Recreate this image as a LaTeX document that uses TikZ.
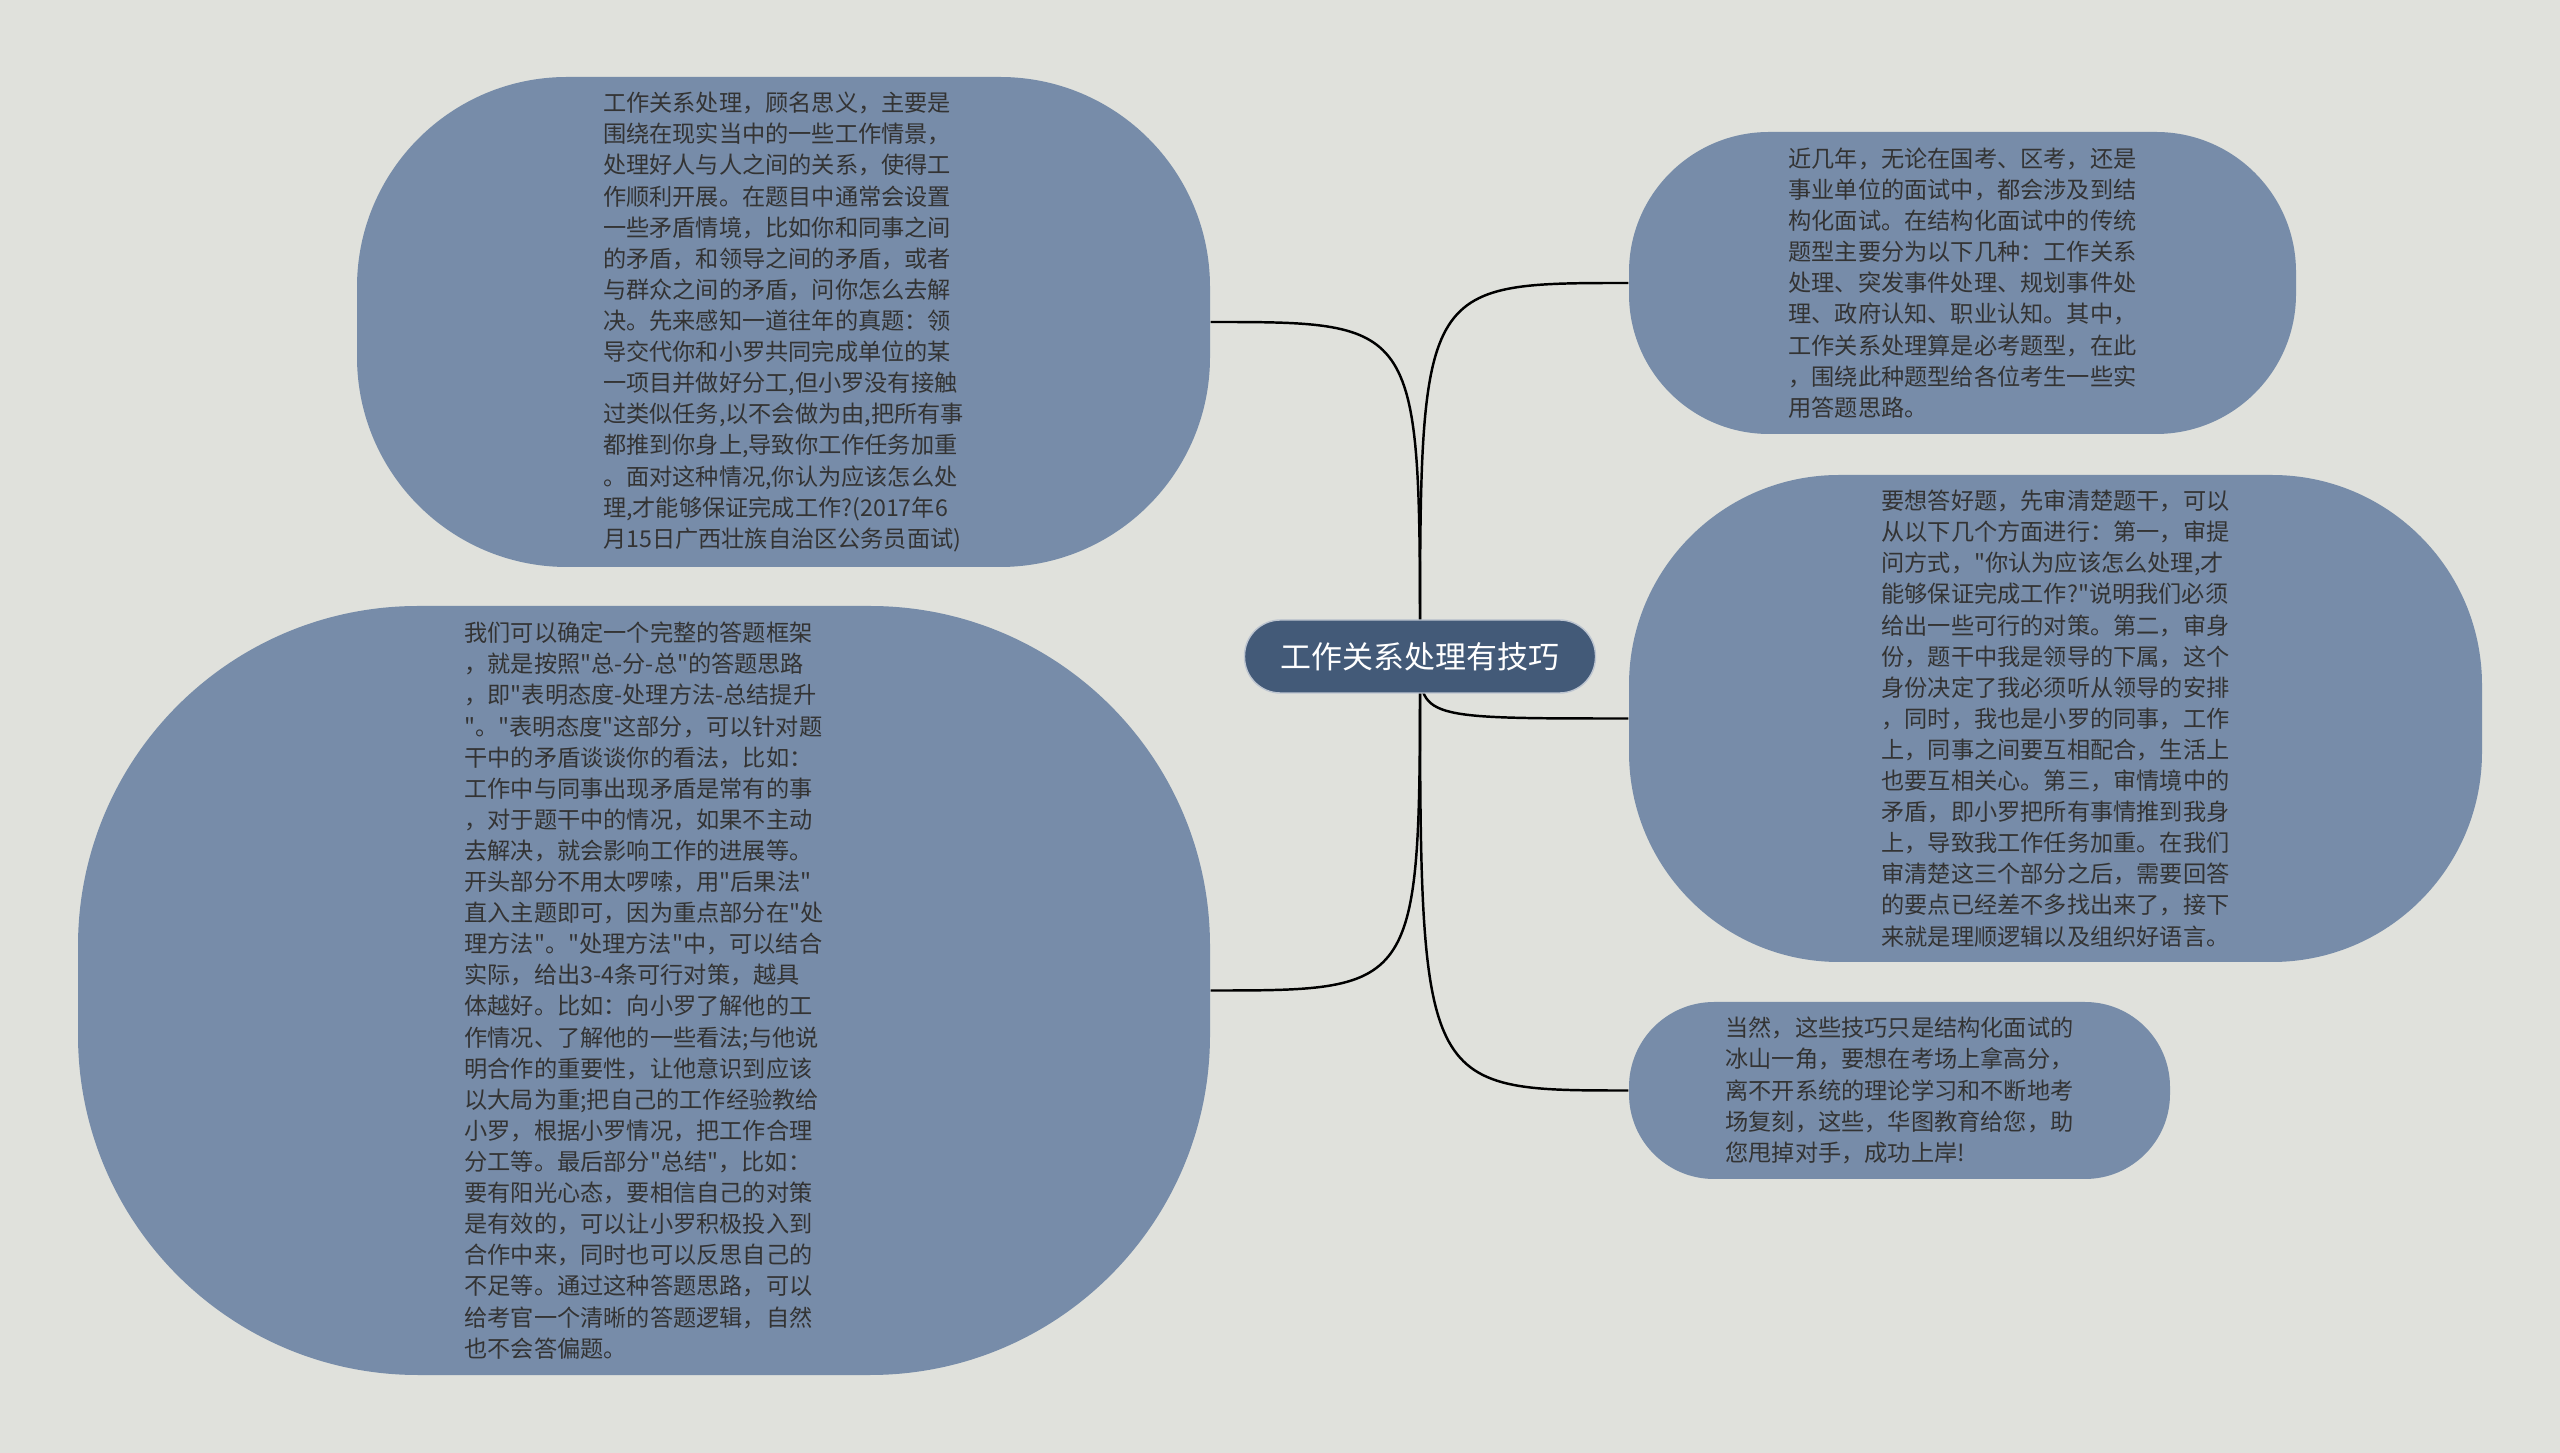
\documentclass[tikz,border=0pt]{standalone}
\usepackage{fontspec}
\newfontfamily\cjk[Ligatures=TeXOff]{Noto Sans CJK SC}
\usepackage{tikz}
\usetikzlibrary{backgrounds}
\definecolor{bg}{HTML}{E0E1DC}
\definecolor{bubblefill}{HTML}{778CA9}
\definecolor{rootfill}{HTML}{435A78}
\definecolor{txt}{HTML}{333333}

\begin{document}
\begin{tikzpicture}[
  bubble/.style={fill=bubblefill, inner sep=0pt, align=left, text=txt,
    font=\cjk\fontsize{6.6pt}{8.85pt}\selectfont},
  link/.style={draw=black, line width=0.7pt}]
  \useasboundingbox (0,0) rectangle (25.6,-14.53);
  \node[fill=rootfill, draw=white!65!rootfill, line width=0.4pt, text=white, rounded corners=0.36cm,
    minimum width=3.51cm, minimum height=0.73cm, font=\cjk\fontsize{8.8pt}{10pt}\selectfont] (root) at (14.2,-6.565) {工作关系处理有技巧};
  \node[bubble, minimum width=8.53cm, minimum height=4.9cm, rounded corners=2.1cm] (tl) at (7.835,-3.22) {工作关系处理，顾名思义，主要是\\
围绕在现实当中的一些工作情景，\\
处理好人与人之间的关系，使得工\\
作顺利开展。在题目中通常会设置\\
一些矛盾情境，比如你和同事之间\\
的矛盾，和领导之间的矛盾，或者\\
与群众之间的矛盾，问你怎么去解\\
决。先来感知一道往年的真题：领\\
导交代你和小罗共同完成单位的某\\
一项目并做好分工,但小罗没有接触\\
过类似任务,以不会做为由,把所有事\\
都推到你身上,导致你工作任务加重\\
。面对这种情况,你认为应该怎么处\\
理,才能够保证完成工作?(2017年6\\
月15日广西壮族自治区公务员面试)};
  \node[bubble, minimum width=11.32cm, minimum height=7.69cm, rounded corners=3.4cm] (bl) at (6.44,-9.905) {我们可以确定一个完整的答题框架\\
，就是按照"总-分-总"的答题思路\\
，即"表明态度-处理方法-总结提升\\
"。"表明态度"这部分，可以针对题\\
干中的矛盾谈谈你的看法，比如：\\
工作中与同事出现矛盾是常有的事\\
，对于题干中的情况，如果不主动\\
去解决，就会影响工作的进展等。\\
开头部分不用太啰嗦，用"后果法"\\
直入主题即可，因为重点部分在"处\\
理方法"。"处理方法"中，可以结合\\
实际，给出3-4条可行对策，越具\\
体越好。比如：向小罗了解他的工\\
作情况、了解他的一些看法;与他说\\
明合作的重要性，让他意识到应该\\
以大局为重;把自己的工作经验教给\\
小罗，根据小罗情况，把工作合理\\
分工等。最后部分"总结"，比如：\\
要有阳光心态，要相信自己的对策\\
是有效的，可以让小罗积极投入到\\
合作中来，同时也可以反思自己的\\
不足等。通过这种答题思路，可以\\
给考官一个清晰的答题逻辑，自然\\
也不会答偏题。};
  \node[bubble, minimum width=6.67cm, minimum height=3.02cm, rounded corners=1.4cm] (tr) at (19.625,-2.83) {近几年，无论在国考、区考，还是\\
事业单位的面试中，都会涉及到结\\
构化面试。在结构化面试中的传统\\
题型主要分为以下几种：工作关系\\
处理、突发事件处理、规划事件处\\
理、政府认知、职业认知。其中，\\
工作关系处理算是必考题型，在此\\
，围绕此种题型给各位考生一些实\\
用答题思路。};
  \node[bubble, minimum width=8.53cm, minimum height=4.87cm, rounded corners=2.1cm] (mr) at (20.555,-7.185) {要想答好题，先审清楚题干，可以\\
从以下几个方面进行：第一，审提\\
问方式，"你认为应该怎么处理,才\\
能够保证完成工作?"说明我们必须\\
给出一些可行的对策。第二，审身\\
份，题干中我是领导的下属，这个\\
身份决定了我必须听从领导的安排\\
，同时，我也是小罗的同事，工作\\
上，同事之间要互相配合，生活上\\
也要互相关心。第三，审情境中的\\
矛盾，即小罗把所有事情推到我身\\
上，导致我工作任务加重。在我们\\
审清楚这三个部分之后，需要回答\\
的要点已经差不多找出来了，接下\\
来就是理顺逻辑以及组织好语言。};
  \node[bubble, minimum width=5.41cm, minimum height=1.77cm, rounded corners=0.85cm] (br) at (18.995,-10.905) {当然，这些技巧只是结构化面试的\\
冰山一角，要想在考场上拿高分，\\
离不开系统的理论学习和不断地考\\
场复刻，这些，华图教育给您，助\\
您甩掉对手，成功上岸!};
  \begin{scope}[on background layer]
    \fill[bg] (0,0) rectangle (25.6,-14.53);
    \foreach \n/\a in {tl/east, bl/east, tr/west, mr/west, br/west}
      \draw[link] (root.center) .. controls (root.center |- \n.\a) .. (\n.\a);
  \end{scope}
\end{tikzpicture}
\end{document}
